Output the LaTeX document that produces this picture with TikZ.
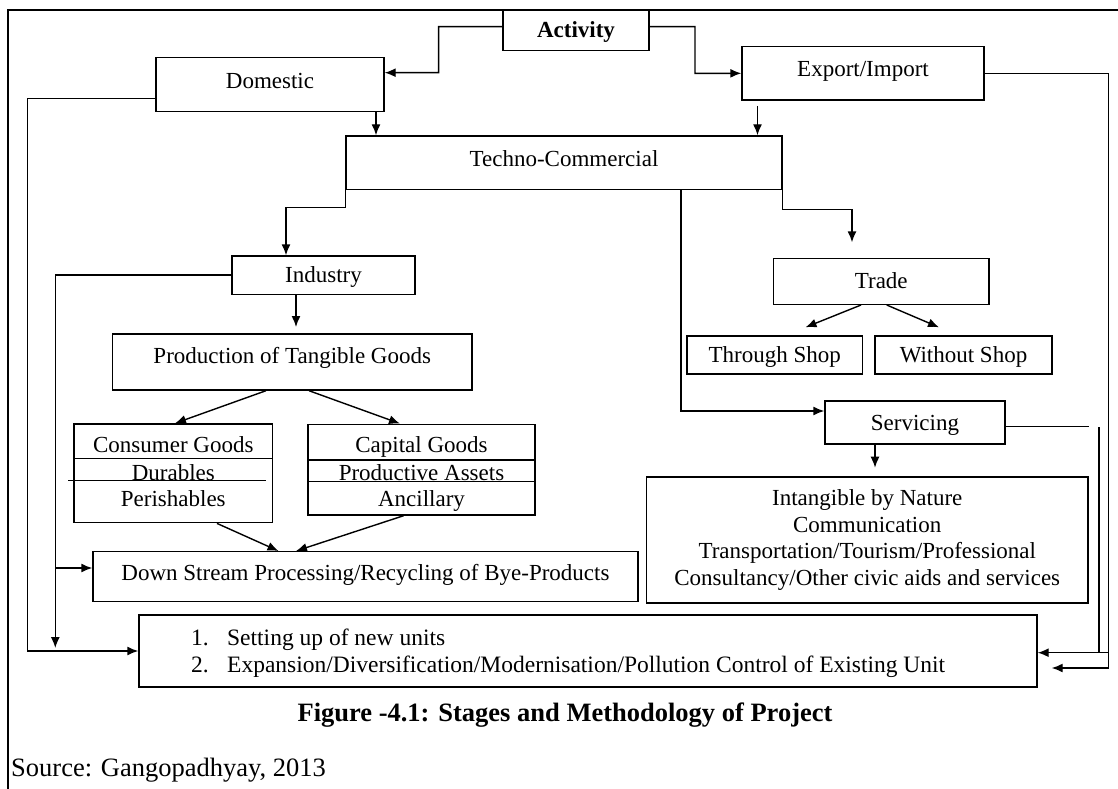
\documentclass[tikz,border=0pt]{standalone}
\usepackage{fontspec}
\setmainfont{Liberation Serif}
\usetikzlibrary{arrows.meta}
\newcommand{\bxfont}{\fontsize{23}{26.7}\selectfont}
\newcommand{\capfont}{\fontsize{26.5}{30}\selectfont}
\begin{document}
\begin{tikzpicture}[x=1pt,y=-1pt,
  bx/.style={draw, line width=1.4pt, inner sep=0pt, font=\bxfont, text height=15.2pt, text depth=0pt},
  bxm/.style={draw, line width=1.4pt, inner sep=0pt, font=\bxfont, align=center},
  tx/.style={inner sep=0pt, font=\bxfont, text height=15.2pt, text depth=0pt},
  ln/.style={line width=1.4pt},
  ar/.style={line width=1.4pt, -{Latex[length=11pt,width=9pt]}},
]
\useasboundingbox (0,0) rectangle (1118,789);
% page border
\draw[line width=2.4pt] (8,789) -- (8,10) -- (1118,10);

% boxes
\node[bx, font=\bxfont\bfseries, minimum width=146pt, minimum height=40.7pt] (act) at (576,30.35) {Activity};
\node[bx, text depth=8pt, minimum width=228pt, minimum height=54.4pt] (dom) at (270,84.5) {Domestic};
\node[bx, text depth=8pt, minimum width=242pt, minimum height=53.3pt] (exp) at (863,73.35) {Export/Import};
\node[bx, text depth=7pt, minimum width=436pt, minimum height=53.3pt] (tech) at (564,162.65) {Techno-Commercial};
\node[bx, minimum width=183pt, minimum height=38.3pt] (ind) at (323.5,275.15) {Industry};
\node[bx, minimum width=215.5pt, minimum height=46pt] (trade) at (881.25,281.3) {Trade};
\node[bx, text depth=12pt, minimum width=359.5pt, minimum height=56pt] (prod) at (292.25,362) {Production of Tangible Goods};
\node[bx, minimum width=175.5pt, minimum height=38pt] (thr) at (774.75,355) {Through Shop};
\node[bx, minimum width=177pt, minimum height=38pt] (wout) at (963.5,355) {Without Shop};
\node[bx, minimum width=180pt, minimum height=43pt] (serv) at (915,422.5) {Servicing};

% consumer goods box
\node[bx, minimum width=198.5pt, minimum height=98.7pt] (cons) at (173.25,473.35) {};
\draw[ln] (74,458.3) -- (272.5,458.3);
\draw[ln] (68,480.7) -- (266,480.7);
\node[tx] (consA) at (173.3,445) {Consumer Goods};
\node[tx] (consB) at (173.3,472.5) {Durables};
\node[tx] (consC) at (173.3,499.3) {Perishables};

% capital goods box
\node[bx, minimum width=227pt, minimum height=90.7pt] (cap) at (421.5,469.65) {};
\draw[ln] (308,460) -- (535,460);
\draw[ln] (308,481.7) -- (535,481.7);
\node[tx] (capA) at (421.5,445) {Capital Goods};
\node[tx] (capB) at (421.5,472.5) {Productive Assets};
\node[tx] (capC) at (421.5,499) {Ancillary};

\node[bx, text depth=8pt, minimum width=545pt, minimum height=49.8pt] (down) at (365.5,576.6) {Down Stream Processing/Recycling of Bye-Products};
\node[bxm, minimum width=441.5pt, minimum height=126pt] (intan) at (867.25,540) {Intangible by Nature\\Communication\\Transportation/Tourism/Professional\\Consultancy/Other civic aids and services};

% bottom box
\node[bx, minimum width=898pt, minimum height=72pt] (bot) at (588,651) {};
\node[tx, anchor=west, font=\fontsize{23.5}{27}\selectfont] (b1) at (191,638) {\makebox[36pt][l]{1.}Setting up of new units};
\node[tx, anchor=west, font=\fontsize{23.5}{27}\selectfont] (b2) at (191,665) {\makebox[36pt][l]{2.}Expansion/Diversification/Modernisation/Pollution Control of Existing Unit};

% caption and source
\node[inner sep=0pt, font=\capfont\bfseries] (fig) at (565,715) {Figure -4.1: Stages and Methodology of Project};
\node[inner sep=0pt, font=\capfont, anchor=west] (src) at (11,770) {Source: Gangopadhyay, 2013};

% connectors
\draw[ar] ([yshift=3.65pt]act.west) -- (438.6,26.7) |- ([yshift=11.8pt]dom.east);
\draw[ar] ([yshift=3.65pt]act.east) -- (695,26.7) |- (exp.west);
\draw[ar] ([xshift=106pt]dom.south) -- ([xshift=106pt]dom.south |- tech.north);
\coordinate (e4) at (757.5,106);
\draw[ar] (e4) -- (e4 |- tech.north);
\draw[ar] ([yshift=-13.8pt]dom.west) -| ([xshift=-111pt]bot.west) -- (bot.west);
\draw[ar] (exp.east) -| ([xshift=70.7pt,yshift=-17pt]bot.east) -- ([xshift=14pt,yshift=-17pt]bot.east);
\draw[ln] ([yshift=-4.2pt]serv.east) -- ++(83,0);
\coordinate (sv1) at (1099,427);
\coordinate (sv2) at (1099,652.7);
\draw[ln] (sv1) -- (sv2);
\draw[ar] ([xshift=70.7pt,yshift=-1.7pt]bot.east) -- ([yshift=-1.7pt]bot.east);
\draw[ar] (tech.south west) -- ++(0,17.7) -| ([xshift=-37.5pt]ind.north);
\draw[ar] ([xshift=117pt]tech.south) |- ([yshift=11.5pt]serv.west);
\draw[ar] (tech.south east) -- ++(0,19.7) -| ([xshift=-29.25pt,yshift=15.3pt]trade.north);
\draw[ar] (ind.west) -| ([xshift=-83pt,yshift=3pt]bot.west);
\draw[ar] ([xshift=-37pt,yshift=8.6pt]down.west) -- ([yshift=8.6pt]down.west);
\draw[ar] ([xshift=-27.5pt]ind.south) -- ++(0,32);
\draw[ar] ([xshift=-26.25pt]prod.south) -- ([xshift=1.75pt]cons.north);
\draw[ar] ([xshift=16.75pt]prod.south) -- ([xshift=-21.5pt]cap.north);
\draw[ar] ([xshift=-20.25pt]trade.south) -- ([xshift=30.75pt,yshift=8pt]thr.north);
\draw[ar] ([xshift=5.45pt]trade.south) -- ([xshift=-24.5pt,yshift=8pt]wout.north);
\draw[ar] ([xshift=43.75pt]cons.south) -- ([xshift=-87pt]down.north);
\draw[ar] ([xshift=-17.9pt]cap.south) -- ([xshift=-69.5pt]down.north);
\draw[ar] ([xshift=-40pt]serv.south) -- ++(0,23);
\end{tikzpicture}
\end{document}
